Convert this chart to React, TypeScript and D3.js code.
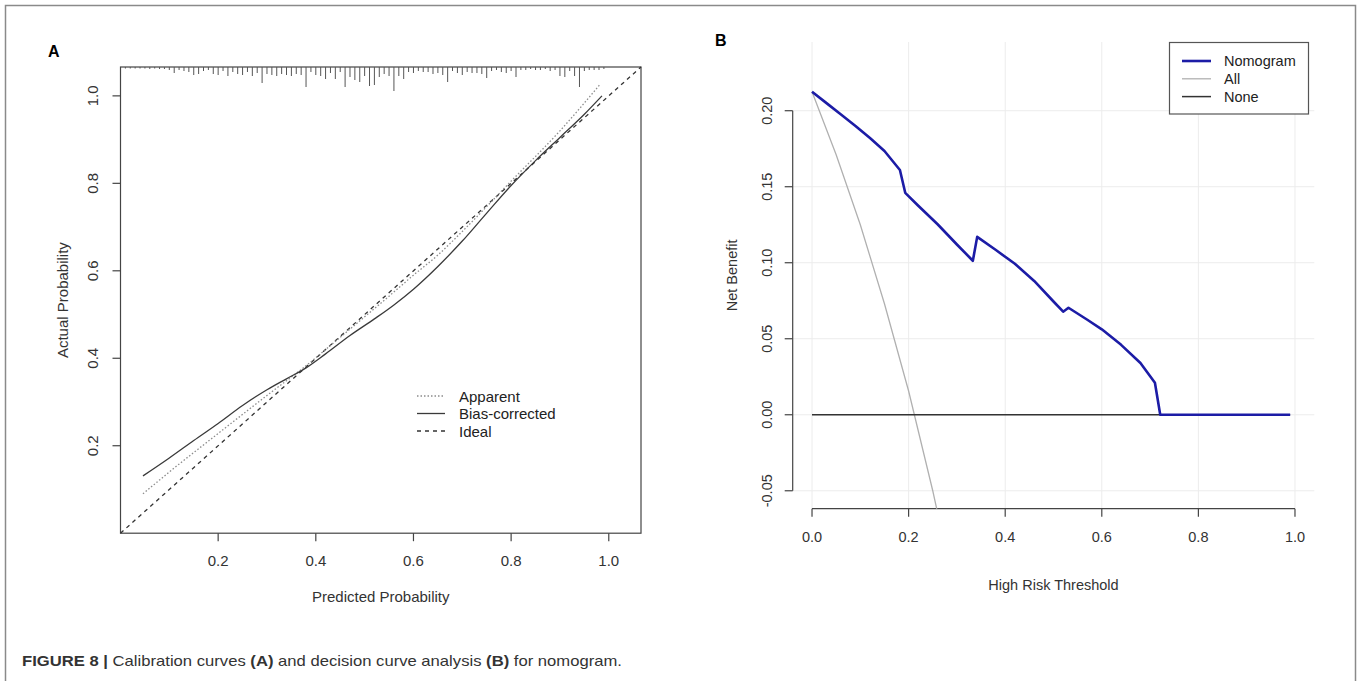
import React, { useRef, useEffect } from "react";
import * as d3 from "d3";

// panel A: calibration curves
const appX = [0.046, 0.1, 0.2, 0.3, 0.38, 0.45, 0.5, 0.55, 0.6, 0.65, 0.7, 0.8, 0.9, 0.982];
const appY = [0.09, 0.14, 0.228, 0.315, 0.383, 0.448, 0.495, 0.542, 0.59, 0.636, 0.69, 0.805, 0.92, 1.026];
const biasX = [0.046, 0.1, 0.15, 0.2, 0.25, 0.3, 0.34, 0.38, 0.42, 0.47, 0.52, 0.56, 0.6, 0.65, 0.7, 0.75, 0.8, 0.85, 0.9, 0.95, 0.986];
const biasY = [0.131, 0.172, 0.212, 0.251, 0.292, 0.328, 0.353, 0.378, 0.41, 0.452, 0.49, 0.522, 0.558, 0.61, 0.668, 0.732, 0.795, 0.852, 0.905, 0.958, 1.0];
const idealX = [0, 1.066];
const idealY = [0, 1.066];
const calTicks = [0.2, 0.4, 0.6, 0.8, 1.0];

// rug of predicted probabilities, one bin per 0.01 from 0.01 to 0.99
const rugCounts = [
  1, 1, 1, 1, 1, 2, 1, 2, 2, 3,
  6, 3, 4, 5, 8, 7, 4, 3, 7, 8,
  4, 9, 5, 7, 8, 5, 9, 6, 16, 7,
  8, 9, 7, 8, 9, 7, 8, 20, 5, 8,
  9, 12, 6, 12, 5, 20, 10, 13, 15, 9,
  19, 18, 10, 7, 9, 24, 9, 12, 5, 6,
  4, 5, 5, 7, 6, 8, 15, 4, 6, 8,
  5, 6, 6, 7, 11, 4, 3, 5, 6, 4,
  10, 3, 3, 2, 3, 3, 2, 4, 3, 9,
  10, 4, 9, 20, 4, 3, 3, 3, 2,
];

// panel B: decision curve
const nomX = [0, 0.03, 0.06, 0.09, 0.12, 0.15, 0.182, 0.193, 0.22, 0.26, 0.3, 0.333, 0.342, 0.38, 0.42, 0.46, 0.5, 0.52, 0.531, 0.57, 0.6, 0.64, 0.68, 0.71, 0.721, 0.99];
const nomY = [0.2125, 0.205, 0.1975, 0.19, 0.182, 0.1735, 0.161, 0.146, 0.1375, 0.1253, 0.112, 0.1013, 0.117, 0.1085, 0.0993, 0.088, 0.0745, 0.0678, 0.0704, 0.0625, 0.0562, 0.046, 0.034, 0.021, 0, 0];
const allX = [0, 0.05, 0.1, 0.15, 0.2, 0.25, 0.27];
const allY = [0.2125, 0.171, 0.125, 0.073, 0.0156, -0.05, -0.079];
const noneX = [0, 0.99];
const noneY = [0, 0];
const dcaXTicks = [0, 0.2, 0.4, 0.6, 0.8, 1.0];
const dcaYTicks = [-0.05, 0, 0.05, 0.1, 0.15, 0.2];

const FONT = "'Liberation Sans', Arial, Helvetica, sans-serif";

const App = () => {
  const ref = useRef<SVGSVGElement>(null);

  useEffect(() => {
    const svg = d3.select(ref.current);
    svg.selectAll("*").remove();

    svg.append("rect").attr("width", 1358).attr("height", 681).attr("fill", "#fff");

    // outer figure frame (open at the bottom)
    svg.append("path")
      .attr("d", "M5.5,690 V5.5 H1355.5 V690")
      .attr("fill", "none")
      .attr("stroke", "#8a8a8a")
      .attr("stroke-width", 1.5);

    const pt = (xs: number[], ys: number[]) => xs.map((x, i) => [x, ys[i]] as [number, number]);

    // ---------------- panel A ----------------
    const xA = d3.scaleLinear().domain([0, 1.066]).range([120.5, 641]);
    const yA = d3.scaleLinear().domain([0, 1.066]).range([533.2, 67]);
    const gA = svg.append("g").style("font-family", FONT);

    gA.append("text").attr("x", 48).attr("y", 57)
      .style("font-size", "16px").style("font-weight", "bold").text("A");

    gA.append("rect")
      .attr("x", xA(0)).attr("y", yA(1.066))
      .attr("width", xA(1.066) - xA(0)).attr("height", yA(0) - yA(1.066))
      .attr("fill", "none").attr("stroke", "#444").attr("stroke-width", 1.2);

    // rug at the top
    const rugLen = d3.scaleLinear().domain([0, d3.max(rugCounts) as number]).range([0, 24]);
    gA.append("g").selectAll("line")
      .data(rugCounts)
      .join("line")
      .attr("x1", (d, i) => xA(0.01 + i * 0.01))
      .attr("x2", (d, i) => xA(0.01 + i * 0.01))
      .attr("y1", yA(1.066))
      .attr("y2", (d) => yA(1.066) + Math.max(1.5, rugLen(d)))
      .attr("stroke", "#555")
      .attr("stroke-width", 1);

    // x axis
    const axA = gA.append("g");
    axA.selectAll("line").data(calTicks).join("line")
      .attr("x1", (d) => xA(d)).attr("x2", (d) => xA(d))
      .attr("y1", yA(0)).attr("y2", yA(0) + 8)
      .attr("stroke", "#444").attr("stroke-width", 1.2);
    axA.selectAll("text").data(calTicks).join("text")
      .attr("x", (d) => xA(d)).attr("y", 566)
      .attr("text-anchor", "middle").style("font-size", "15px").attr("fill", "#333")
      .text((d) => d.toFixed(1));

    // y axis
    const ayA = gA.append("g");
    ayA.selectAll("line").data(calTicks).join("line")
      .attr("x1", xA(0) - 8).attr("x2", xA(0))
      .attr("y1", (d) => yA(d)).attr("y2", (d) => yA(d))
      .attr("stroke", "#444").attr("stroke-width", 1.2);
    ayA.selectAll("text").data(calTicks).join("text")
      .attr("transform", (d) => `translate(98,${yA(d)}) rotate(-90)`)
      .attr("text-anchor", "middle").style("font-size", "15px").attr("fill", "#333")
      .text((d) => d.toFixed(1));

    gA.append("text").attr("x", (xA(0) + xA(1.066)) / 2).attr("y", 602)
      .attr("text-anchor", "middle").style("font-size", "15px").attr("fill", "#333")
      .text("Predicted Probability");
    gA.append("text")
      .attr("transform", `translate(68,${(yA(0) + yA(1.066)) / 2}) rotate(-90)`)
      .attr("text-anchor", "middle").style("font-size", "15px").attr("fill", "#333")
      .text("Actual Probability");

    const lineA = d3.line<[number, number]>().x((d) => xA(d[0])).y((d) => yA(d[1])).curve(d3.curveMonotoneX);

    gA.append("path").attr("d", lineA(pt(idealX, idealY)))
      .attr("fill", "none").attr("stroke", "#333").attr("stroke-width", 1.3)
      .attr("stroke-dasharray", "4,4");
    gA.append("path").attr("d", lineA(pt(appX, appY)))
      .attr("fill", "none").attr("stroke", "#8c8c8c").attr("stroke-width", 1.3)
      .attr("stroke-dasharray", "1.5,2");
    gA.append("path").attr("d", lineA(pt(biasX, biasY)))
      .attr("fill", "none").attr("stroke", "#3a3a3a").attr("stroke-width", 1.3);

    // legend A
    const legA = [
      { label: "Apparent", color: "#8c8c8c", dash: "1.5,2" },
      { label: "Bias-corrected", color: "#3a3a3a", dash: "none" },
      { label: "Ideal", color: "#333", dash: "4,4" },
    ];
    const lg = gA.append("g").selectAll("g").data(legA).join("g")
      .attr("transform", (d, i) => `translate(0,${396 + i * 17.5})`);
    lg.append("line").attr("x1", 417).attr("x2", 445).attr("y1", 0).attr("y2", 0)
      .attr("stroke", (d) => d.color).attr("stroke-width", 1.3)
      .attr("stroke-dasharray", (d) => d.dash);
    lg.append("text").attr("x", 459).attr("y", 5.5)
      .style("font-size", "15px").attr("fill", "#222")
      .text((d) => d.label);

    // ---------------- panel B ----------------
    const xB = d3.scaleLinear().domain([-0.04, 1.04]).range([792.7, 1314.3]);
    const yB = d3.scaleLinear().domain([-0.0618, 0.2452]).range([508.7, 42]);
    const gB = svg.append("g").style("font-family", FONT);

    gB.append("text").attr("x", 715).attr("y", 46)
      .style("font-size", "16px").style("font-weight", "bold").text("B");

    const clipId = "dca-clip";
    gB.append("clipPath").attr("id", clipId).append("rect")
      .attr("x", xB(-0.04)).attr("y", yB(0.2452))
      .attr("width", xB(1.04) - xB(-0.04)).attr("height", yB(-0.0618) - yB(0.2452));

    // grid
    gB.append("g").selectAll("line").data(dcaXTicks).join("line")
      .attr("x1", (d) => xB(d)).attr("x2", (d) => xB(d))
      .attr("y1", yB(0.2452)).attr("y2", yB(-0.0618))
      .attr("stroke", "#ececec").attr("stroke-width", 1);
    gB.append("g").selectAll("line").data(dcaYTicks).join("line")
      .attr("x1", xB(-0.04)).attr("x2", xB(1.04))
      .attr("y1", (d) => yB(d)).attr("y2", (d) => yB(d))
      .attr("stroke", "#ececec").attr("stroke-width", 1);

    // x axis
    const axB = gB.append("g");
    axB.append("line").attr("x1", xB(0)).attr("x2", xB(1)).attr("y1", yB(-0.0618)).attr("y2", yB(-0.0618))
      .attr("stroke", "#444").attr("stroke-width", 1.2);
    axB.selectAll(".tk").data(dcaXTicks).join("line").attr("class", "tk")
      .attr("x1", (d) => xB(d)).attr("x2", (d) => xB(d))
      .attr("y1", yB(-0.0618)).attr("y2", yB(-0.0618) + 8)
      .attr("stroke", "#444").attr("stroke-width", 1.2);
    axB.selectAll("text").data(dcaXTicks).join("text")
      .attr("x", (d) => xB(d)).attr("y", 542)
      .attr("text-anchor", "middle").style("font-size", "14.5px").attr("fill", "#333")
      .text((d) => d.toFixed(1));

    // y axis
    const ayB = gB.append("g");
    ayB.append("line").attr("x1", xB(-0.04)).attr("x2", xB(-0.04)).attr("y1", yB(-0.05)).attr("y2", yB(0.2))
      .attr("stroke", "#444").attr("stroke-width", 1.2);
    ayB.selectAll(".tk").data(dcaYTicks).join("line").attr("class", "tk")
      .attr("x1", xB(-0.04) - 8).attr("x2", xB(-0.04))
      .attr("y1", (d) => yB(d)).attr("y2", (d) => yB(d))
      .attr("stroke", "#444").attr("stroke-width", 1.2);
    ayB.selectAll("text").data(dcaYTicks).join("text")
      .attr("transform", (d) => `translate(772,${yB(d)}) rotate(-90)`)
      .attr("text-anchor", "middle").style("font-size", "14.5px").attr("fill", "#333")
      .text((d) => d.toFixed(2));

    gB.append("text").attr("x", (xB(-0.04) + xB(1.04)) / 2).attr("y", 590)
      .attr("text-anchor", "middle").style("font-size", "14.5px").attr("fill", "#333")
      .text("High Risk Threshold");
    gB.append("text")
      .attr("transform", `translate(737,${(yB(-0.0618) + yB(0.2452)) / 2}) rotate(-90)`)
      .attr("text-anchor", "middle").style("font-size", "14.5px").attr("fill", "#333")
      .text("Net Benefit");

    const lineB = d3.line<[number, number]>().x((d) => xB(d[0])).y((d) => yB(d[1]));
    const curves = gB.append("g").attr("clip-path", `url(#${clipId})`);
    curves.append("path").attr("d", lineB(pt(allX, allY)))
      .attr("fill", "none").attr("stroke", "#b0b0b0").attr("stroke-width", 1.3);
    curves.append("path").attr("d", lineB(pt(noneX, noneY)))
      .attr("fill", "none").attr("stroke", "#333").attr("stroke-width", 1.5);
    curves.append("path").attr("d", lineB(pt(nomX, nomY)))
      .attr("fill", "none").attr("stroke", "#1c1ca6").attr("stroke-width", 2.6)
      .attr("stroke-linejoin", "round");

    // legend B
    const legB = [
      { label: "Nomogram", color: "#1c1ca6", w: 2.6 },
      { label: "All", color: "#b0b0b0", w: 1.3 },
      { label: "None", color: "#333", w: 1.5 },
    ];
    gB.append("rect").attr("x", 1169.5).attr("y", 42.5).attr("width", 139).attr("height", 71.5)
      .attr("fill", "#fff").attr("stroke", "#555").attr("stroke-width", 1.2);
    const lb = gB.append("g").selectAll("g").data(legB).join("g")
      .attr("transform", (d, i) => `translate(0,${61 + i * 17.8})`);
    lb.append("line").attr("x1", 1182).attr("x2", 1211).attr("y1", 0).attr("y2", 0)
      .attr("stroke", (d) => d.color).attr("stroke-width", (d) => d.w);
    lb.append("text").attr("x", 1224).attr("y", 5.3)
      .style("font-size", "14.5px").attr("fill", "#222")
      .text((d) => d.label);

    // caption
    const cap = svg.append("text").attr("x", 22).attr("y", 666)
      .style("font-family", FONT).style("font-size", "15px").attr("fill", "#333")
      .attr("textLength", 600).attr("lengthAdjust", "spacingAndGlyphs");
    cap.append("tspan").style("font-weight", "bold").text("FIGURE 8 | ");
    cap.append("tspan").text("Calibration curves ");
    cap.append("tspan").style("font-weight", "bold").text("(A)");
    cap.append("tspan").text(" and decision curve analysis ");
    cap.append("tspan").style("font-weight", "bold").text("(B)");
    cap.append("tspan").text(" for nomogram.");
  }, []);

  return (
    <svg
      ref={ref}
      width={1358}
      height={681}
      style={{ position: "absolute", left: 0, top: 0, display: "block" }}
    />
  );
};

export default App;
